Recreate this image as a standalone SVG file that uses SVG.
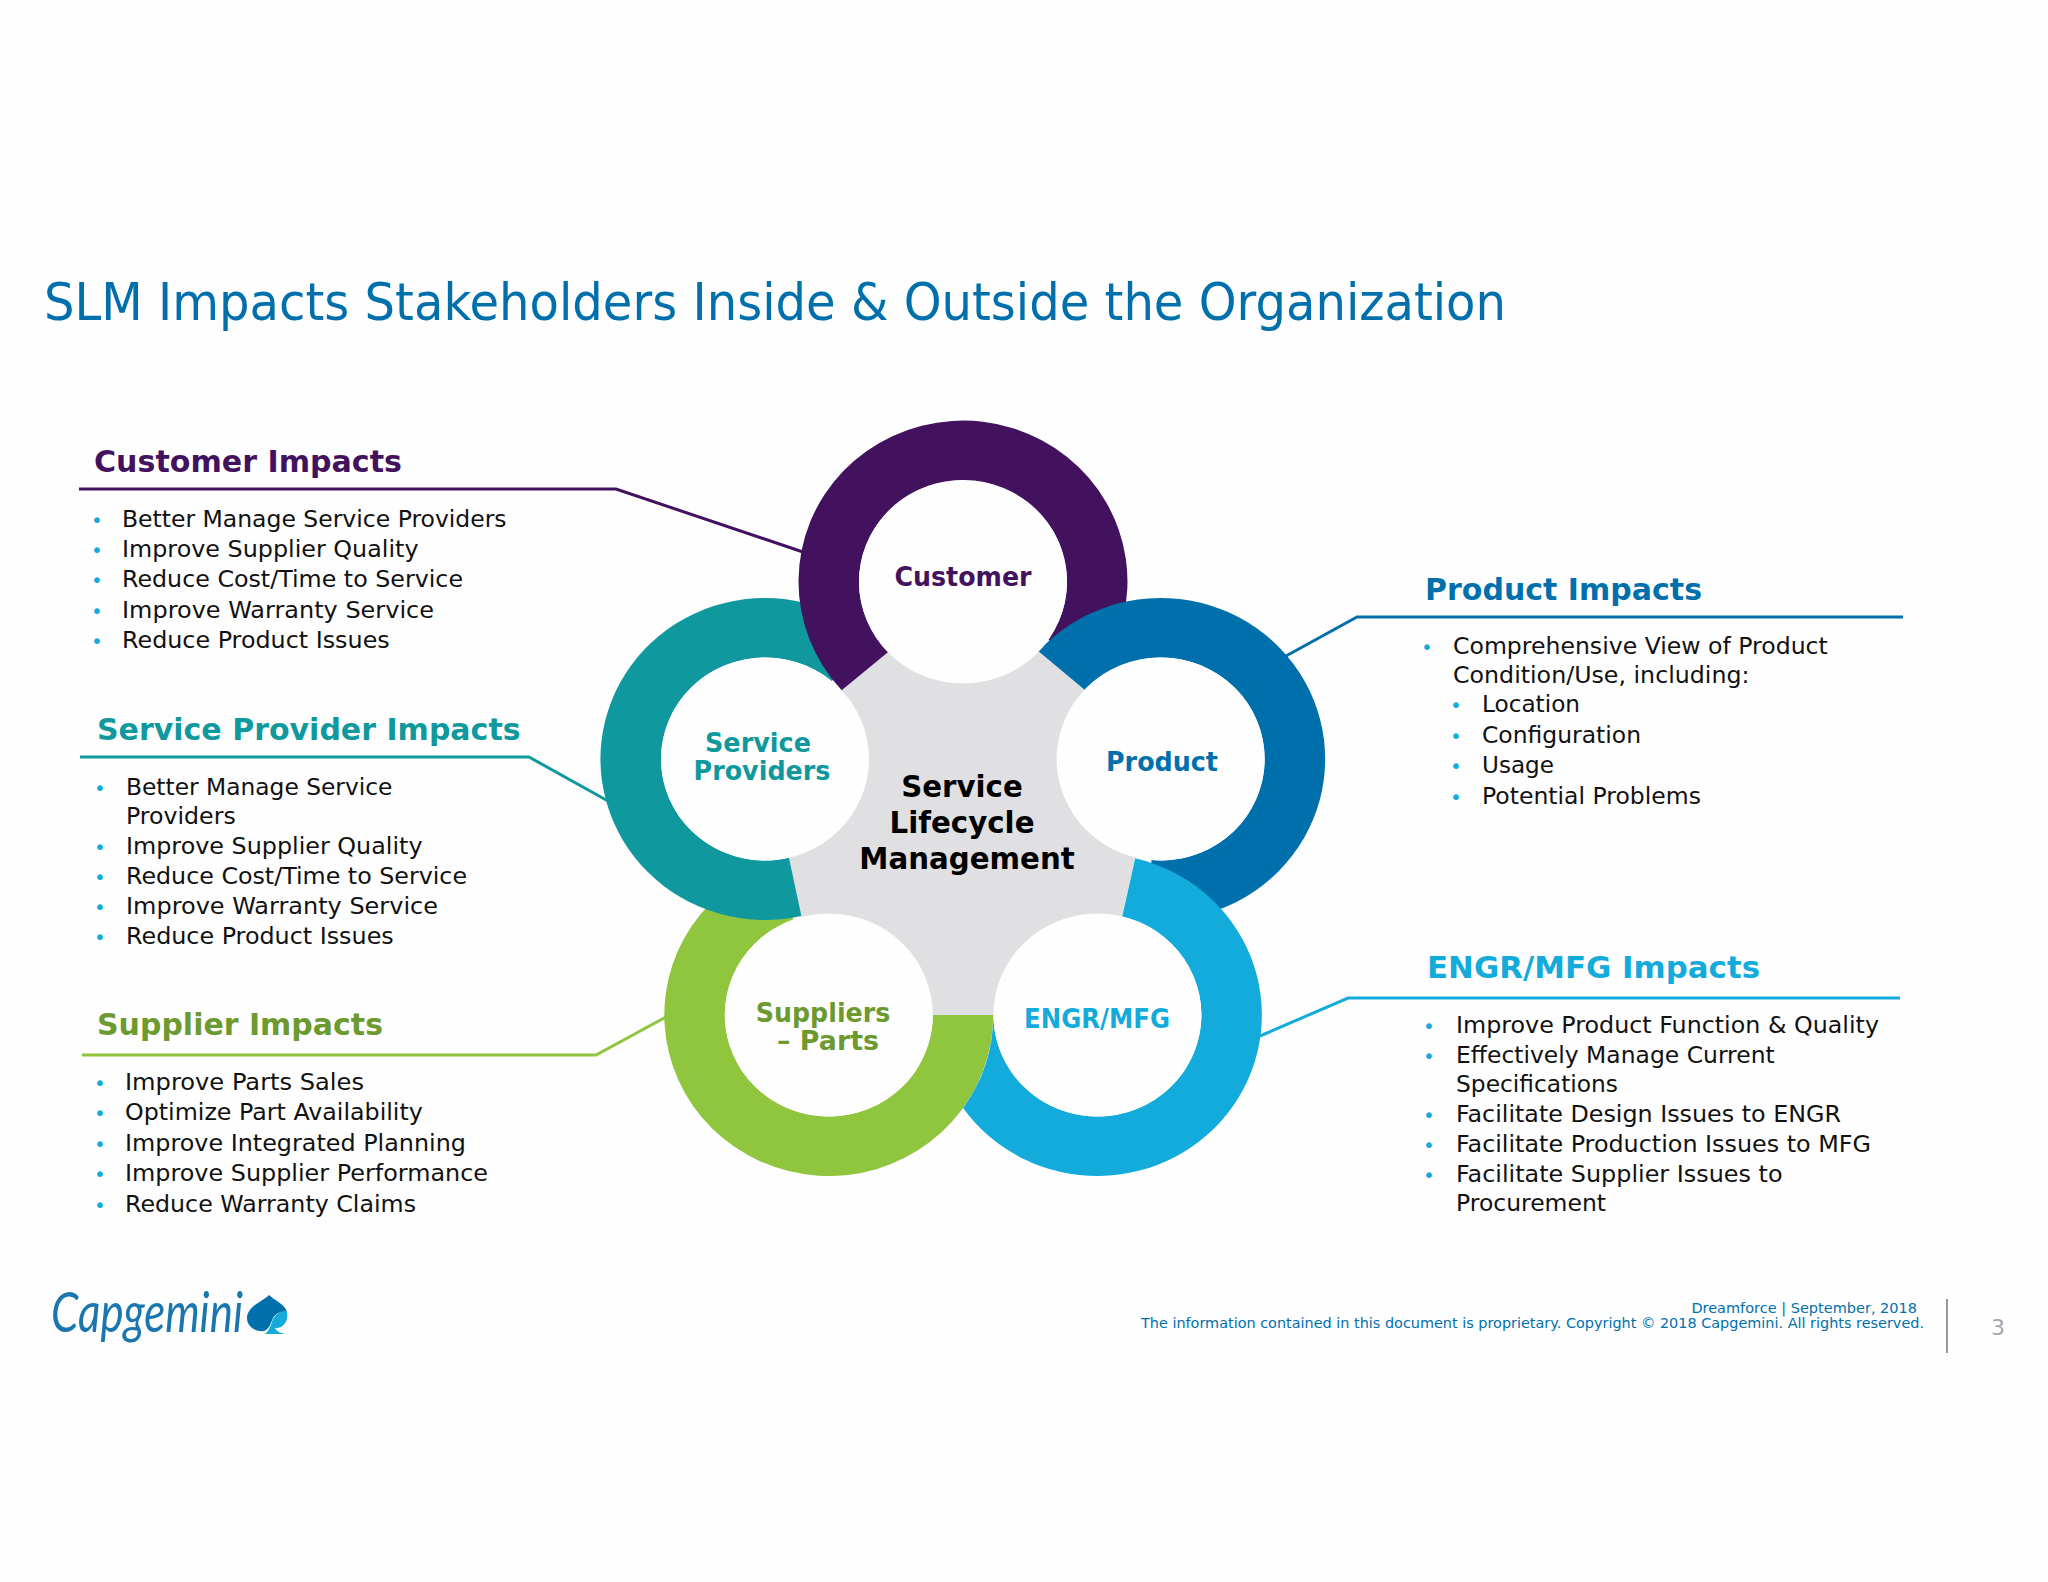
<svg xmlns="http://www.w3.org/2000/svg" width="2048" height="1582" viewBox="0 0 2048 1582">
<style>
text{font-family:"DejaVu Sans","Liberation Sans",sans-serif}
.h{font-weight:700;font-size:30px}
.t{font-size:23.5px;fill:#111}
.b{font-size:20px;fill:#12abdb}
.n{font-weight:700;font-size:26px;text-anchor:middle}
.c{font-weight:700;font-size:30.5px;text-anchor:middle;fill:#000}
.f{font-size:14.5px;fill:#0070ad}
.w{fill:#fefefe}
.l{fill:none;stroke-width:3}
.pu{fill:#43125f}.te{fill:#0f999e}.bl{fill:#0070ad}.lb{fill:#12abdb}.gr{fill:#90c53e}.gt{fill:#6c9a2e}
</style>
<rect width="2048" height="1582" fill="#fefefe"/>
<text id="title" x="44" y="320" font-size="52" fill="#0070ad" textLength="1462" lengthAdjust="spacingAndGlyphs">SLM Impacts Stakeholders Inside &amp; Outside the Organization</text>
<g id="connectors">
<path class="l" stroke="#43125f" d="M79 489H616L803 552"/>
<path class="l" stroke="#0f999e" d="M80 757H529L608 801"/>
<path class="l" stroke="#90c53e" d="M82 1055H596L666 1017"/>
<path class="l" stroke="#0070ad" d="M1286 656L1357 617H1903"/>
<path class="l" stroke="#12abdb" d="M1260 1036L1348 998H1900"/>
</g>
<polygon id="hub-fill" points="888,652 1038,651 1085,690 1135,858 1122,916 993,1015 933,1015 801,916 789,858 842,690" fill="#e0dfe2"/>
<g id="ring-suppliers"><path class="gr" d="M993.3 1015A164.5 161 0 1 1 772.5 863.7L793.2 919.6A104 101.5 0 1 0 932.8 1015Z"/></g>
<g id="ring-service"><path class="te" d="M801.4 916A164.5 161 0 1 1 870.7 635.7L831.8 681.2A104 101.5 0 1 0 789 857.8Z"/></g>
<g id="ring-customer"><path class="pu" d="M841.7 690.3A164.5 161 0 1 1 1097.8 673.8L1048.2 639.7A104 101.5 0 1 0 888.2 652Z"/></g>
<g id="ring-product"><path class="bl" d="M1038.4 651.3A164.5 161 0 1 1 1146.3 919.4L1151.5 860.1A104 101.5 0 1 0 1084.6 689.8Z"/></g>
<g id="ring-engr"><path class="lb" d="M1135.2 858.3A164.5 161 0 1 1 963.1 1108A164.5 161 0 0 0 993.3 1015L993.4 1015A104 101.5 0 1 0 1122.2 916.4Z"/></g>
<g id="node-customer"><ellipse class="w" cx="963" cy="582" rx="104" ry="101.5"/><text class="n pu" x="963" y="586" textLength="137" lengthAdjust="spacingAndGlyphs">Customer</text></g>
<g id="node-service"><ellipse class="w" cx="765" cy="759" rx="104" ry="101.5"/><text class="n te" x="758" y="752" textLength="106" lengthAdjust="spacingAndGlyphs">Service</text><text class="n te" x="762" y="780" textLength="137" lengthAdjust="spacingAndGlyphs">Providers</text></g>
<g id="node-product"><ellipse class="w" cx="1160.6" cy="759" rx="104" ry="101.5"/><text class="n bl" x="1162" y="771" textLength="112" lengthAdjust="spacingAndGlyphs">Product</text></g>
<g id="node-suppliers"><ellipse class="w" cx="828.8" cy="1015" rx="104" ry="101.5"/><text class="n gt" x="823" y="1022" textLength="134.5" lengthAdjust="spacingAndGlyphs">Suppliers</text><text class="n gt" x="828" y="1050" textLength="102" lengthAdjust="spacingAndGlyphs">– Parts</text></g>
<g id="node-engr"><ellipse class="w" cx="1097.4" cy="1015" rx="104" ry="101.5"/><text class="n lb" x="1097" y="1028" textLength="146" lengthAdjust="spacingAndGlyphs">ENGR/MFG</text></g>
<g id="hub"><text class="c" x="962" y="797" textLength="121.5" lengthAdjust="spacingAndGlyphs">Service</text><text class="c" x="962" y="833" textLength="145" lengthAdjust="spacingAndGlyphs">Lifecycle</text><text class="c" x="967" y="869" textLength="215.5" lengthAdjust="spacingAndGlyphs">Management</text></g>
<g id="customer-impacts">
<text class="h pu" x="94" y="472" textLength="308" lengthAdjust="spacingAndGlyphs">Customer Impacts</text>
<text class="b" x="91" y="527">•</text><text class="t" x="122" y="527" textLength="384.6" lengthAdjust="spacingAndGlyphs">Better Manage Service Providers</text>
<text class="b" x="91" y="557">•</text><text class="t" x="122" y="557" textLength="296.5" lengthAdjust="spacingAndGlyphs">Improve Supplier Quality</text>
<text class="b" x="91" y="587">•</text><text class="t" x="122" y="587" textLength="341" lengthAdjust="spacingAndGlyphs">Reduce Cost/Time to Service</text>
<text class="b" x="91" y="618">•</text><text class="t" x="122" y="618" textLength="312" lengthAdjust="spacingAndGlyphs">Improve Warranty Service</text>
<text class="b" x="91" y="648">•</text><text class="t" x="122" y="648" textLength="267.7" lengthAdjust="spacingAndGlyphs">Reduce Product Issues</text>
</g>
<g id="service-impacts">
<text class="h te" x="97" y="740">Service Provider Impacts</text>
<text class="b" x="94" y="795">•</text><text class="t" x="126" y="795" textLength="266.4" lengthAdjust="spacingAndGlyphs">Better Manage Service</text>
<text class="t" x="126" y="824" textLength="109.7" lengthAdjust="spacingAndGlyphs">Providers</text>
<text class="b" x="94" y="854">•</text><text class="t" x="126" y="854" textLength="296.5" lengthAdjust="spacingAndGlyphs">Improve Supplier Quality</text>
<text class="b" x="94" y="884">•</text><text class="t" x="126" y="884" textLength="341" lengthAdjust="spacingAndGlyphs">Reduce Cost/Time to Service</text>
<text class="b" x="94" y="914">•</text><text class="t" x="126" y="914" textLength="312" lengthAdjust="spacingAndGlyphs">Improve Warranty Service</text>
<text class="b" x="94" y="944">•</text><text class="t" x="126" y="944" textLength="267.7" lengthAdjust="spacingAndGlyphs">Reduce Product Issues</text>
</g>
<g id="supplier-impacts">
<text class="h gt" x="97" y="1035" textLength="286" lengthAdjust="spacingAndGlyphs">Supplier Impacts</text>
<text class="b" x="94" y="1090">•</text><text class="t" x="125" y="1090" textLength="239" lengthAdjust="spacingAndGlyphs">Improve Parts Sales</text>
<text class="b" x="94" y="1120">•</text><text class="t" x="125" y="1120" textLength="297.8" lengthAdjust="spacingAndGlyphs">Optimize Part Availability</text>
<text class="b" x="94" y="1151">•</text><text class="t" x="125" y="1151" textLength="340.9" lengthAdjust="spacingAndGlyphs">Improve Integrated Planning</text>
<text class="b" x="94" y="1181">•</text><text class="t" x="125" y="1181" textLength="363" lengthAdjust="spacingAndGlyphs">Improve Supplier Performance</text>
<text class="b" x="94" y="1212">•</text><text class="t" x="125" y="1212" textLength="291" lengthAdjust="spacingAndGlyphs">Reduce Warranty Claims</text>
</g>
<g id="product-impacts">
<text class="h bl" x="1425" y="600" textLength="277" lengthAdjust="spacingAndGlyphs">Product Impacts</text>
<text class="b" x="1421" y="654">•</text><text class="t" x="1453" y="654" textLength="374.8" lengthAdjust="spacingAndGlyphs">Comprehensive View of Product</text>
<text class="t" x="1453" y="683" textLength="296.5" lengthAdjust="spacingAndGlyphs">Condition/Use, including:</text>
<text class="b" x="1450" y="712">•</text><text class="t" x="1482" y="712" textLength="98" lengthAdjust="spacingAndGlyphs">Location</text>
<text class="b" x="1450" y="743">•</text><text class="t" x="1482" y="743" textLength="159" lengthAdjust="spacingAndGlyphs">Configuration</text>
<text class="b" x="1450" y="773">•</text><text class="t" x="1482" y="773" textLength="72" lengthAdjust="spacingAndGlyphs">Usage</text>
<text class="b" x="1450" y="804">•</text><text class="t" x="1482" y="804" textLength="219" lengthAdjust="spacingAndGlyphs">Potential Problems</text>
</g>
<g id="engr-impacts">
<text class="h lb" x="1427" y="978" textLength="333" lengthAdjust="spacingAndGlyphs">ENGR/MFG Impacts</text>
<text class="b" x="1423" y="1033">•</text><text class="t" x="1456" y="1033" textLength="423" lengthAdjust="spacingAndGlyphs">Improve Product Function &amp; Quality</text>
<text class="b" x="1423" y="1063">•</text><text class="t" x="1456" y="1063" textLength="318.7" lengthAdjust="spacingAndGlyphs">Effectively Manage Current</text>
<text class="t" x="1456" y="1092" textLength="162" lengthAdjust="spacingAndGlyphs">Specifications</text>
<text class="b" x="1423" y="1122">•</text><text class="t" x="1456" y="1122" textLength="385" lengthAdjust="spacingAndGlyphs">Facilitate Design Issues to ENGR</text>
<text class="b" x="1423" y="1152">•</text><text class="t" x="1456" y="1152" textLength="415" lengthAdjust="spacingAndGlyphs">Facilitate Production Issues to MFG</text>
<text class="b" x="1423" y="1182">•</text><text class="t" x="1456" y="1182" textLength="326.5" lengthAdjust="spacingAndGlyphs">Facilitate Supplier Issues to</text>
<text class="t" x="1456" y="1211" textLength="150" lengthAdjust="spacingAndGlyphs">Procurement</text>
</g>
<g id="logo">
<text x="51" y="1332" font-size="56" font-style="italic" fill="#1a76ae" textLength="192" lengthAdjust="spacingAndGlyphs" style="font-family:Lato,sans-serif">Capgemini</text>
<path d="M269 1295C264 1301 247 1306 247 1318C247 1327 256 1332 264 1331C270 1329 271 1322 273 1318C276 1313 282 1311 287 1312C285 1304 274 1300 269 1295Z" fill="#0070ad"/>
<path d="M287 1312C289 1322 282 1329 275 1328C276 1331 280 1333 285 1334H265C269 1331 271 1325 272 1322C274 1315 281 1310 287 1312Z" fill="#12abdb"/>
</g>
<g id="footer">
<text class="f" x="1917" y="1313" text-anchor="end">Dreamforce | September, 2018</text>
<text class="f" x="1924" y="1328" text-anchor="end" textLength="783" lengthAdjust="spacingAndGlyphs">The information contained in this document is proprietary. Copyright © 2018 Capgemini. All rights reserved.</text>
<path d="M1947 1299V1353" stroke="#9a9a9a" stroke-width="2" fill="none"/>
<text x="1991" y="1335" font-size="22" fill="#a6a6a6">3</text>
</g>
</svg>
